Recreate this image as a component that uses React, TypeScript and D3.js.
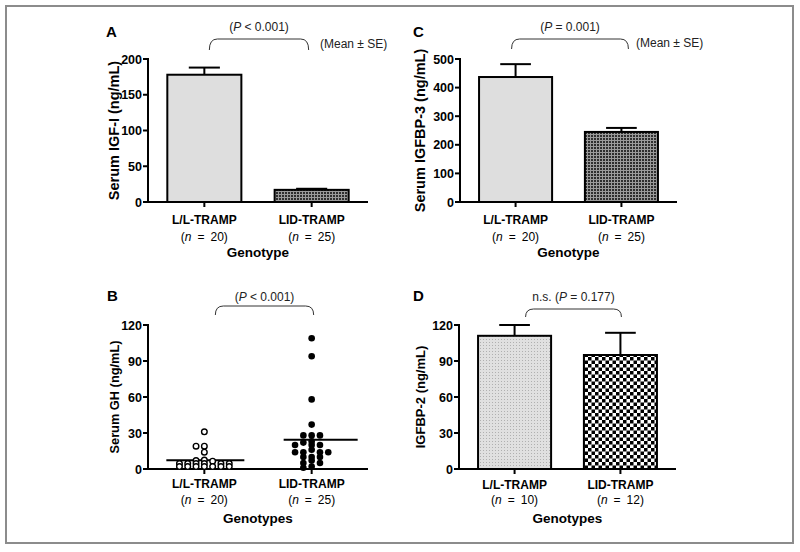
import React from 'react';
import * as d3 from 'd3';

const FONT = '"Liberation Sans", Arial, Helvetica, sans-serif';

// ---------- DATA ----------
const genotypes = ['L/L-TRAMP', 'LID-TRAMP'];
const nTopRow = ['20', '25'];
const nGH = ['20', '25'];
const nIGFBP2 = ['10', '12'];

// Panel A: Serum IGF-I (ng/mL), mean ± SE
const igf1Mean = [178, 17];
const igf1SE = [10, 1.5];
const igf1Ticks = [0, 50, 100, 150, 200];

// Panel C: Serum IGFBP-3 (ng/mL), mean ± SE
const igfbp3Mean = [437, 245];
const igfbp3SE = [45, 14];
const igfbp3Ticks = [0, 100, 200, 300, 400, 500];

// Panel B: Serum GH (ng/mL), individual animals
const ghLL = [31, 19, 19, 14, 7.5, 7, 6.5, 4.5, 4.5, 4.5, 4.5, 4.5, 4.5, 2, 2, 2, 2, 2, 2, 2];
const ghLID = [109, 94, 58, 37, 28, 28, 28, 23, 22, 20, 20, 20, 16, 14, 14, 14, 14, 10, 10, 10, 7, 5, 5, 2, 1];
const ghTicks = [0, 30, 60, 90, 120];

// Panel D: IGFBP-2 (ng/mL), mean ± SE
const igfbp2Mean = [111, 95];
const igfbp2SE = [9, 18.5];
const igfbp2Ticks = [0, 30, 60, 90, 120];

// ---------- helpers ----------
function bracketPath(xa: number, xb: number, yt: number, yb: number, r: number) {
  return `M${xa},${yb} Q${xa},${yt} ${xa + r},${yt} L${xb - r},${yt} Q${xb},${yt} ${xb},${yb}`;
}

function makeX(x0: number, x1: number) {
  return d3.scaleBand<string>().domain(genotypes).range([x0, x1]).paddingInner(0.31).paddingOuter(0.18);
}

function swarm(values: number[], y: (v: number) => number, thr: number) {
  const order = values.map((_, i) => i).sort((a, b) => values[b] - values[a]);
  const placed: { slot: number; py: number }[] = [];
  const res: { slot: number; py: number }[] = new Array(values.length);
  for (const i of order) {
    const py = y(values[i]);
    for (let k = 0; k < 100; k++) {
      const s = k === 0 ? 0 : k % 2 === 1 ? -Math.ceil(k / 2) : Math.ceil(k / 2);
      if (!placed.some((p) => p.slot === s && Math.abs(p.py - py) < thr)) {
        placed.push({ slot: s, py });
        res[i] = { slot: s, py };
        break;
      }
    }
  }
  return res;
}

type PPart = { t: string; i?: boolean };

function PText({ x, y, parts }: { x: number; y: number; parts: PPart[] }) {
  return (
    <text x={x} y={y} textAnchor="middle" fontSize={12} fill="#222">
      {parts.map((p, k) => (
        <tspan key={k} fontStyle={p.i ? 'italic' : 'normal'}>{p.t}</tspan>
      ))}
    </text>
  );
}

function YAxis({ x, y, ticks, x1 }: { x: number; y: d3.ScaleLinear<number, number>; ticks: number[]; x1: number }) {
  const [r0, r1] = y.range();
  return (
    <g>
      <line x1={x} x2={x} y1={r1 - 1} y2={r0 + 1} stroke="#000" strokeWidth={2} />
      <line x1={x - 1} x2={x1} y1={r0} y2={r0} stroke="#000" strokeWidth={2} />
      {ticks.map((t) => (
        <g key={t}>
          <line x1={x - 5} x2={x} y1={y(t)} y2={y(t)} stroke="#000" strokeWidth={2} />
          <text x={x - 6} y={y(t)} dy="0.36em" textAnchor="end" fontSize={12.5} fontWeight="bold">{t}</text>
        </g>
      ))}
    </g>
  );
}

function XLabels({ xs, ns, yBase, rows, title, center }: { xs: d3.ScaleBand<string>; ns: string[]; yBase: number; rows: number[]; title: string; center: number }) {
  return (
    <g>
      {genotypes.map((g, i) => {
        const cx = (xs(g) as number) + xs.bandwidth() / 2;
        return (
          <g key={g}>
            <line x1={cx} x2={cx} y1={yBase} y2={yBase + 5} stroke="#000" strokeWidth={2} />
            <text x={cx} y={rows[0]} textAnchor="middle" fontSize={12} fontWeight="bold">{g}</text>
            <text x={cx} y={rows[1]} textAnchor="middle" fontSize={12}>
              <tspan>(</tspan><tspan fontStyle="italic">n</tspan><tspan>{'\u2002=\u2002' + ns[i] + ')'}</tspan>
            </text>
          </g>
        );
      })}
      <text x={center} y={rows[2]} textAnchor="middle" fontSize={13.5} fontWeight="bold">{title}</text>
    </g>
  );
}

type BarPanelProps = {
  x0: number; x1: number; yTop: number; yBot: number; max: number; ticks: number[];
  means: number[]; se: number[]; fills: string[]; ns: string[]; title: string;
  ylabel: string; ylabelSize: number; ylabelX: number;
  letter: string; letterX: number; letterY: number;
  pParts: PPart[]; pY: number; br: { dl: number; dr: number; yt: number; yb: number };
  meanSE?: { x: number; y: number }; rows: number[];
};

function BarPanel(p: BarPanelProps) {
  const x = makeX(p.x0, p.x1);
  const y = d3.scaleLinear().domain([0, p.max]).range([p.yBot, p.yTop]);
  const bw = x.bandwidth();
  const c0 = (x(genotypes[0]) as number) + bw / 2;
  const c1 = (x(genotypes[1]) as number) + bw / 2;
  const xa = c0 + p.br.dl, xb = c1 + p.br.dr;
  return (
    <g>
      <text x={p.letterX} y={p.letterY} fontSize={15} fontWeight="bold">{p.letter}</text>
      <PText x={(xa + xb) / 2} y={p.pY} parts={p.pParts} />
      <path d={bracketPath(xa, xb, p.br.yt, p.br.yb, 8)} fill="none" stroke="#333" strokeWidth={1} />
      {p.meanSE && <text x={p.meanSE.x} y={p.meanSE.y} fontSize={12} fill="#222">(Mean ± SE)</text>}
      {genotypes.map((g, i) => {
        const bx = x(g) as number;
        const cx = bx + bw / 2;
        const cap = bw * 0.42;
        return (
          <g key={g}>
            <line x1={cx} x2={cx} y1={y(p.means[i])} y2={y(p.means[i] + p.se[i])} stroke="#000" strokeWidth={2} />
            <line x1={cx - cap / 2} x2={cx + cap / 2} y1={y(p.means[i] + p.se[i])} y2={y(p.means[i] + p.se[i])} stroke="#000" strokeWidth={2} />
            <rect x={bx} y={y(p.means[i])} width={bw} height={y(0) - y(p.means[i])} fill={p.fills[i]} stroke="#000" strokeWidth={2} />
          </g>
        );
      })}
      <YAxis x={p.x0} y={y} ticks={p.ticks} x1={p.x1} />
      <text transform={`translate(${p.ylabelX},${(p.yTop + p.yBot) / 2}) rotate(-90)`} textAnchor="middle" fontSize={p.ylabelSize} fontWeight="bold">{p.ylabel}</text>
      <XLabels xs={x} ns={p.ns} yBase={p.yBot} rows={p.rows} title={p.title} center={(p.x0 + p.x1) / 2} />
    </g>
  );
}

function ScatterPanel() {
  const x0 = 148, x1 = 368, yTop = 325, yBot = 469;
  const x = makeX(x0, x1);
  const y = d3.scaleLinear().domain([0, 120]).range([yBot, yTop]);
  const bw = x.bandwidth();
  const c0 = (x(genotypes[0]) as number) + bw / 2;
  const c1 = (x(genotypes[1]) as number) + bw / 2;
  const slotW = 8.3;
  const sLL = swarm(ghLL, y, 2.8);
  const sLID = swarm(ghLID, y, 2.8);
  const mLL = d3.mean(ghLL) as number;
  const mLID = d3.mean(ghLID) as number;
  const xa = c0 + 11, xb = c1 + 2;
  return (
    <g>
      <text x={107} y={301} fontSize={15} fontWeight="bold">B</text>
      <PText x={(xa + xb) / 2} y={301} parts={[{ t: '(' }, { t: 'P', i: true }, { t: ' < 0.001)' }]} />
      <path d={bracketPath(xa, xb, 306, 315, 8)} fill="none" stroke="#333" strokeWidth={1} />
      <YAxis x={x0} y={y} ticks={ghTicks} x1={x1} />
      <line x1={c0 - 38} x2={c0 + 40} y1={y(mLL)} y2={y(mLL)} stroke="#000" strokeWidth={2} />
      <line x1={c1 - 28} x2={c1 + 46} y1={y(mLID)} y2={y(mLID)} stroke="#000" strokeWidth={2} />
      {sLL.map((d, i) => (
        <circle key={'a' + i} cx={c0 + d.slot * slotW} cy={d.py} r={2.8} fill="#fff" stroke="#000" strokeWidth={1.4} />
      ))}
      {sLID.map((d, i) => (
        <circle key={'b' + i} cx={c1 + d.slot * slotW} cy={d.py} r={3.3} fill="#000" />
      ))}
      <text transform={`translate(119,${(yTop + yBot) / 2}) rotate(-90)`} textAnchor="middle" fontSize={12.8} fontWeight="bold">Serum GH (ng/mL)</text>
      <XLabels xs={x} ns={nGH} yBase={yBot} rows={[488, 504, 523]} title="Genotypes" center={(x0 + x1) / 2} />
    </g>
  );
}

export default function App() {
  return (
    <svg width={800} height={552} style={{ position: 'absolute', left: 0, top: 0, background: '#fff' }} fontFamily={FONT}>
      <defs>
        <pattern id="darkFine" width={3} height={3} patternUnits="userSpaceOnUse">
          <rect width={3} height={3} fill="#9a9a9a" />
          <rect width={2} height={2} fill="#2e2e2e" />
        </pattern>
        <pattern id="lightDot" width={3} height={3} patternUnits="userSpaceOnUse">
          <rect width={3} height={3} fill="#e0e0e0" />
          <rect width={1} height={1} fill="#b0b0b0" />
        </pattern>
        <pattern id="checker" width={7} height={7} patternUnits="userSpaceOnUse">
          <rect width={7} height={7} fill="#fff" />
          <rect width={3.5} height={3.5} fill="#000" />
          <rect x={3.5} y={3.5} width={3.5} height={3.5} fill="#000" />
        </pattern>
      </defs>
      <rect x={6} y={6} width={787} height={537} fill="#fff" stroke="#8c8c8c" strokeWidth={2} />
      <BarPanel
        x0={148} x1={368} yTop={59} yBot={202} max={200} ticks={igf1Ticks}
        means={igf1Mean} se={igf1SE} fills={['#dedede', 'url(#darkFine)']} ns={nTopRow} title="Genotype"
        ylabel="Serum IGF-I (ng/mL)" ylabelSize={14.5} ylabelX={119}
        letter="A" letterX={106} letterY={37}
        pParts={[{ t: '(' }, { t: 'P', i: true }, { t: ' < 0.001)' }]} pY={31}
        br={{ dl: 5, dr: -3, yt: 39, yb: 50 }} meanSE={{ x: 320, y: 48 }} rows={[224, 241, 257]}
      />
      <BarPanel
        x0={460} x1={677} yTop={59} yBot={202} max={500} ticks={igfbp3Ticks}
        means={igfbp3Mean} se={igfbp3SE} fills={['#dedede', 'url(#darkFine)']} ns={nTopRow} title="Genotype"
        ylabel="Serum IGFBP-3 (ng/mL)" ylabelSize={14.5} ylabelX={425}
        letter="C" letterX={413} letterY={37}
        pParts={[{ t: '(' }, { t: 'P', i: true }, { t: ' = 0.001)' }]} pY={31}
        br={{ dl: -4, dr: 7, yt: 39, yb: 49 }} meanSE={{ x: 636, y: 47 }} rows={[224, 241, 257]}
      />
      <ScatterPanel />
      <BarPanel
        x0={459} x1={676} yTop={325} yBot={469} max={120} ticks={igfbp2Ticks}
        means={igfbp2Mean} se={igfbp2SE} fills={['url(#lightDot)', 'url(#checker)']} ns={nIGFBP2} title="Genotypes"
        ylabel="IGFBP-2 (ng/mL)" ylabelSize={13} ylabelX={425}
        letter="D" letterX={413} letterY={301}
        pParts={[{ t: 'n.s. (' }, { t: 'P', i: true }, { t: ' = 0.177)' }]} pY={301}
        br={{ dl: 11, dr: 1, yt: 309, yb: 317 }} rows={[489, 504, 523]}
      />
    </svg>
  );
}
